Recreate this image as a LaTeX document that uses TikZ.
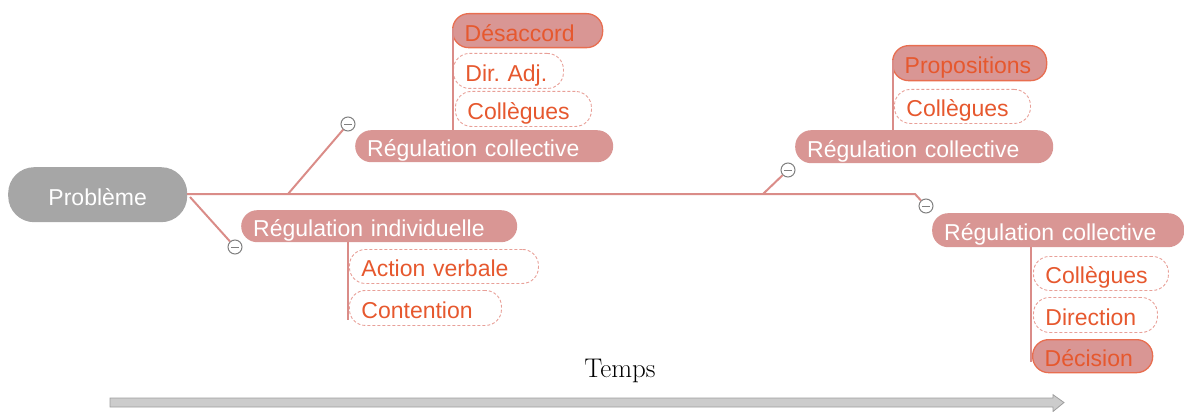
\documentclass[tikz,border=0pt]{standalone}
\usepackage{fontspec}
\setmainfont{Liberation Sans}
\newfontfamily\temfont{Latin Modern Roman}
\frenchspacing
\definecolor{pinkfill}{RGB}{217,150,148}
\definecolor{orangetxt}{RGB}{230,88,46}
\definecolor{orangeline}{RGB}{232,110,80}
\definecolor{dashcol}{RGB}{232,160,152}
\definecolor{linkcol}{RGB}{218,140,136}
\definecolor{probgray}{RGB}{166,166,166}
\definecolor{circgray}{RGB}{128,128,128}
\tikzset{
  x=1pt, y=-1pt,
  basebox/.style={anchor=north west, inner xsep=12pt, inner ysep=0pt, align=left,
    text height=25pt, text depth=4pt,
    font=\fontsize{23}{24}\selectfont, rounded corners=16pt},
  mainbox/.style={basebox, fill=pinkfill, text=white},
  keybox/.style={basebox, fill=pinkfill, draw=orangeline, line width=1.3pt, text=orangetxt},
  dashbox/.style={basebox, draw=dashcol, dashed, dash pattern=on 3pt off 2pt, line width=0.9pt, text=orangetxt},
  link/.style={draw=linkcol, line width=2pt},
  vlink/.style={draw=linkcol, line width=1.2pt},
  collapse/.style={circle, draw=circgray, fill=white, line width=1pt, minimum size=14pt, inner sep=0pt,
    path picture={\draw[circgray, line width=1pt] ([xshift=-4pt]path picture bounding box.center) -- ([xshift=4pt]path picture bounding box.center);}},
}
\begin{document}
\begin{tikzpicture}
\useasboundingbox (0,0) rectangle (1184,412);

% root
\node[anchor=north west, fill=probgray, text=white, rounded corners=26pt, minimum width=179pt, minimum height=55pt,
  inner sep=0pt, text height=25pt, text depth=4pt, font=\fontsize{23}{24}\selectfont] (prob) at (8,167) {Problème};

% first-level nodes
\node[mainbox, text width=234pt, minimum height=32pt] (rc1) at (355,130) {Régulation collective};
\node[mainbox, text width=252pt, minimum height=32pt] (ri) at (241,210) {Régulation individuelle};
\node[mainbox, text width=234pt, minimum height=33pt] (rc2) at (795,130) {Régulation collective};
\node[mainbox, text width=228pt, minimum height=34pt] (rc3) at (932,213) {Régulation collective};

% children of rc1
\node[keybox, text width=126pt, minimum height=34pt] (des) at (452,13) {Désaccord};
\node[dashbox, text width=86pt, minimum height=35pt] (dir) at (453,53) {Dir. Adj.};
\node[dashbox, text width=112pt, minimum height=35pt] (col1) at (455,91) {Collègues};
% children of ri
\node[dashbox, text width=165pt, minimum height=34pt] (act) at (349,249) {Action verbale};
\node[dashbox, text width=128pt, minimum height=35pt] (cont) at (349,290) {Contention};
% children of rc2
\node[keybox, text width=130pt, minimum height=35pt] (prop) at (892,45) {Propositions};
\node[dashbox, text width=112pt, minimum height=34pt] (col2) at (894,89) {Collègues};
% children of rc3
\node[dashbox, text width=111pt, minimum height=34pt] (col3) at (1033,256) {Collègues};
\node[dashbox, text width=100pt, minimum height=35pt] (dirn) at (1033,297) {Direction};
\node[keybox, text width=96pt, minimum height=33pt] (dec) at (1032,339) {Décision};

% collapse markers
\node[collapse] (k1) at (235,247) {};
\node[collapse] (k2) at (348,124) {};
\node[collapse] (k3) at (788,170) {};
\node[collapse] (k4) at (926,206) {};

% junction coordinates
\coordinate (j0) at (187,194);
\coordinate (j1) at (190,197);
\coordinate (j2) at (288,194);
\coordinate (j3) at (763,194);
\coordinate (j4) at (915,194);

% main spine and branches
\draw[link] (j0) -- (j4) -- (k4);
\draw[link] (j1) -- (k1);
\draw[link] (j2) -- (k2);
\draw[link] (j3) -- (k3);

% child connectors (vertical)
\coordinate (v1) at (453,28);
\coordinate (v1b) at (453,130);
\coordinate (v2) at (893,60);
\coordinate (v2b) at (893,130);
\coordinate (v3) at (348,242);
\coordinate (v3b) at (348,320);
\coordinate (v4) at (1031,247);
\coordinate (v4b) at (1031,362);
\draw[vlink] (v1) -- (v1b);
\draw[vlink] (v2) -- (v2b);
\draw[vlink] (v3) -- (v3b);
\draw[vlink] (v4) -- (v4b);

% time label and arrow
\node[font=\temfont\fontsize{27}{30}\selectfont, text=black] (temps) at (620,371) {Temps};
\draw[fill=black!20, draw=black!38, line width=0.8pt]
  (110,398) -- (1053,398) -- (1053,394.7) -- (1064,402.5) -- (1053,411.5) -- (1053,407) -- (110,407) -- cycle;
\end{tikzpicture}
\end{document}
